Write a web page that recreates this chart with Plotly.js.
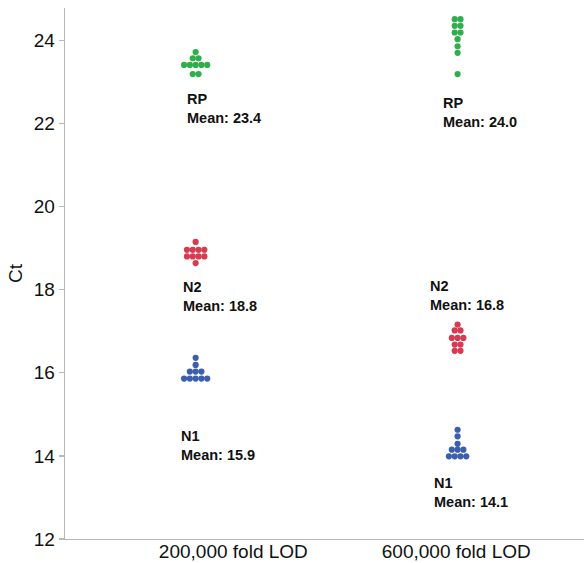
<!DOCTYPE html>
<html>
<head>
<meta charset="utf-8">
<script src="https://cdn.plot.ly/plotly-3.0.1.min.js"></script>
<style>html,body{margin:0;padding:0;background:#fff}#chart{width:584px;height:563px}</style>
</head>
<body>
<div id="chart"></div>
<script>
// ---- data ----
var categories = ["200,000 fold LOD", "600,000 fold LOD"];
var targets = ["RP", "N2", "N1"];

var rp200 = [23.72, 23.57, 23.57, 23.41, 23.41, 23.41, 23.41, 23.41, 23.19, 23.19];
var rp600 = [24.51, 24.51, 24.35, 24.35, 24.19, 24.19, 24.03, 23.86, 23.70, 23.19];
var n2_200 = [19.15, 18.96, 18.96, 18.96, 18.96, 18.80, 18.80, 18.80, 18.80, 18.64];
var n2_600 = [17.16, 17.02, 17.02, 16.84, 16.84, 16.84, 16.68, 16.68, 16.53, 16.53];
var n1_200 = [16.36, 16.19, 16.03, 16.03, 16.03, 15.86, 15.86, 15.86, 15.86, 15.86];
var n1_600 = [14.63, 14.47, 14.29, 14.15, 14.15, 14.15, 13.99, 13.99, 13.99, 13.99];

var meanLabels = {
  RP: ["23.4", "24.0"],
  N2: ["18.8", "16.8"],
  N1: ["15.9", "14.1"]
};

var tickVals = [12, 14, 16, 18, 20, 22, 24];

// ---- styling / layout constants ----
var colors = {RP: "#2fae4b", N2: "#d93a50", N1: "#3c5fad"};
var groupOffset = [-0.169, 0.006];
var dotSpacing = 0.026;
var labelPos = {
  RP: [[-0.218, 22.36], [-0.068, 22.27]],
  N2: [[-0.233, 17.84], [-0.125, 17.86]],
  N1: [[-0.242, 14.25], [-0.107, 13.11]]
};
var FONT = "Liberation Sans, Arial, Helvetica, sans-serif";

var series = {
  RP: [rp200, rp600],
  N2: [n2_200, n2_600],
  N1: [n1_200, n1_600]
};

// simple beeswarm: equal values share a row, spread horizontally
function swarm(vals, center) {
  var rows = {};
  vals.forEach(function (v) { rows[v] = (rows[v] || 0) + 1; });
  var xs = [], ys = [];
  Object.keys(rows).forEach(function (k) {
    var n = rows[k];
    for (var i = 0; i < n; i++) {
      xs.push(center + (i - (n - 1) / 2) * dotSpacing);
      ys.push(parseFloat(k));
    }
  });
  return {x: xs, y: ys};
}

var traces = [];
var annotations = [];
targets.forEach(function (t) {
  series[t].forEach(function (vals, gi) {
    var s = swarm(vals, gi + groupOffset[gi]);
    traces.push({
      type: "scatter", mode: "markers",
      x: s.x, y: s.y, name: t + " " + categories[gi],
      marker: {color: colors[t], size: 6.2, line: {width: 0}},
      hoverinfo: "y", showlegend: false
    });
    annotations.push({
      x: gi + labelPos[t][gi][0], y: labelPos[t][gi][1],
      xref: "x", yref: "y",
      text: "<b>" + t + "<br>Mean: " + meanLabels[t][gi] + "</b>",
      showarrow: false, xanchor: "left", yanchor: "middle", align: "left",
      font: {family: FONT, size: 14.5, color: "#111"}
    });
  });
});

var layout = {
  width: 584, height: 563,
  margin: {l: 65, r: 0, t: 8, b: 24},
  paper_bgcolor: "#fff", plot_bgcolor: "#fff",
  font: {family: FONT, color: "#111"},
  xaxis: {
    range: [-0.755, 1.573],
    tickvals: [0, 1], ticktext: categories,
    showgrid: false, zeroline: false,
    showline: true, linecolor: "#b8b8b8", linewidth: 1.3,
    ticks: "", ticklabelstandoff: -5,
    tickfont: {family: FONT, size: 19, color: "#111"}
  },
  yaxis: {
    range: [12, 24.78],
    tickvals: tickVals,
    showgrid: false, zeroline: false,
    showline: true, linecolor: "#b8b8b8", linewidth: 1.3,
    ticks: "outside", ticklen: 5, tickcolor: "#b8b8b8", tickwidth: 1.3,
    tickfont: {family: FONT, size: 19, color: "#111"},
    title: {text: "Ct", font: {family: FONT, size: 19, color: "#111"}, standoff: 6}
  },
  annotations: annotations
};

Plotly.newPlot("chart", traces, layout, {staticPlot: true, displayModeBar: false});
</script>
</body>
</html>
